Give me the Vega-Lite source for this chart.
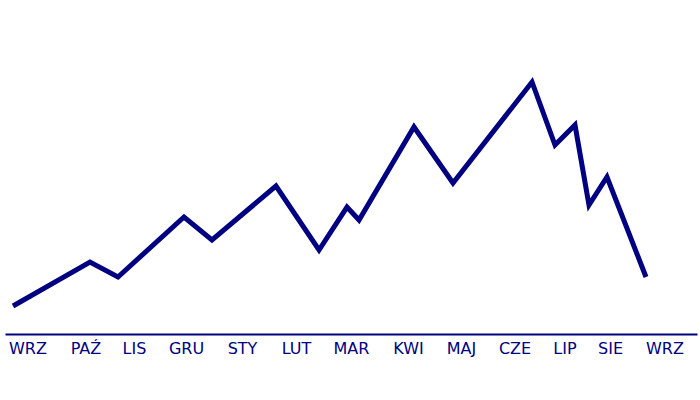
{
  "$schema": "https://vega.github.io/schema/vega-lite/v6.json",
  "width": 692,
  "height": 334,
  "autosize": {"type": "none"},
  "padding": {"left": 5, "right": 3, "top": 0, "bottom": 66},
  "background": "white",
  "config": {
    "view": {"stroke": null}
  },
  "data": {
    "values": [
      {"t": 1.16, "v": 8.38},
      {"t": 12.28, "v": 21.56},
      {"t": 16.33, "v": 17.07},
      {"t": 25.87, "v": 35.03},
      {"t": 29.91, "v": 28.14},
      {"t": 39.16, "v": 44.31},
      {"t": 45.38, "v": 25.15},
      {"t": 49.42, "v": 38.02},
      {"t": 51.16, "v": 34.13},
      {"t": 59.10, "v": 61.98},
      {"t": 64.74, "v": 45.21},
      {"t": 76.16, "v": 75.45},
      {"t": 79.48, "v": 56.59},
      {"t": 82.37, "v": 62.57},
      {"t": 84.39, "v": 38.62},
      {"t": 86.99, "v": 47.01},
      {"t": 92.63, "v": 17.07}
    ]
  },
  "mark": {"type": "line", "color": "#000080", "strokeWidth": 5, "strokeJoin": "miter", "strokeCap": "butt"},
  "encoding": {
    "x": {
      "field": "t",
      "type": "quantitative",
      "scale": {"domain": [0, 100], "nice": false, "zero": false},
      "axis": {
        "title": null,
        "grid": false,
        "ticks": false,
        "tickSize": 0,
        "domainColor": "#000080",
        "domainWidth": 2,
        "labelFont": "DejaVu Sans",
        "labelFontSize": 16,
        "labelColor": "#000080",
        "labelPadding": 6,
        "labelFlush": false,
        "labelOverlap": false,
        "values": [3.25, 11.63, 18.64, 26.16, 34.25, 42.05, 50.0, 58.24, 65.9, 73.63, 80.85, 87.43, 95.3],
        "labelExpr": "['WRZ','PAŹ','LIS','GRU','STY','LUT','MAR','KWI','MAJ','CZE','LIP','SIE','WRZ'][indexof([3.25, 11.63, 18.64, 26.16, 34.25, 42.05, 50.0, 58.24, 65.9, 73.63, 80.85, 87.43, 95.3], datum.value)]"
      }
    },
    "y": {
      "field": "v",
      "type": "quantitative",
      "scale": {"domain": [0, 100], "nice": false},
      "axis": null
    }
  }
}
